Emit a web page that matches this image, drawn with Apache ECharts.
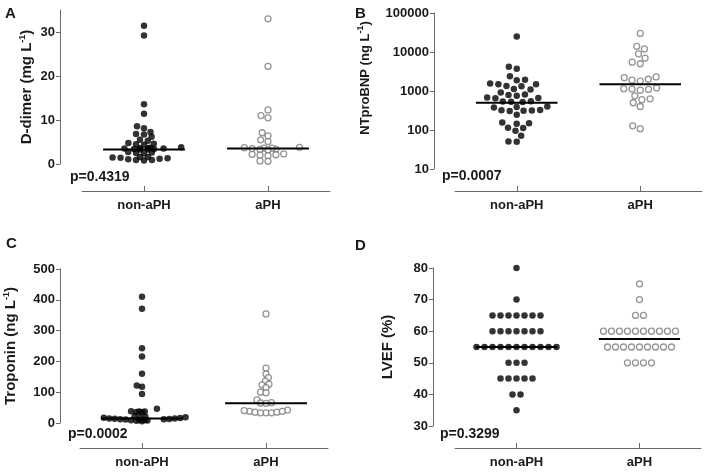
<!DOCTYPE html>
<html>
<head>
<meta charset="utf-8">
<script src="https://cdn.jsdelivr.net/npm/echarts@6/dist/echarts.min.js"></script>
<style>
html,body{margin:0;padding:0;background:#ffffff;}
#c{width:709px;height:476px;}
</style>
</head>
<body>
<div id="c"></div>
<script>
// ---------------- data ----------------
const categories = ['non-aPH', 'aPH'];
const panelLetters = ['A', 'B', 'C', 'D'];
const pValues = ['p=0.4319', 'p=0.0007', 'p=0.0002', 'p=0.3299'];

const ddimerNonAPH = [31.4, 29.2, 13.6, 11.4, 8.6, 8.1, 7.3, 6.8, 6.7, 6.2, 5.5, 5.3, 4.8, 4.6, 4.4, 4.5,
  3.8, 3.6, 3.5, 3.4, 3.5, 3.3, 3.4, 3.3, 3.6, 3.7, 2.7, 2.5, 2.6, 2.4,
  1.6, 1.4, 1.2, 0.9, 0.8, 0.9, 1.1, 1.3, 1.5, 1.6];
const ddimerAPH = [33.0, 22.2, 12.3, 10.5, 11.0, 7.1, 6.4, 5.5, 5.1, 3.8, 3.6, 3.4, 3.5, 3.3, 3.6, 3.7, 3.2,
  2.3, 2.1, 2.0, 1.9, 2.2, 0.7, 0.6];
const ddimerMedian = [3.3, 3.5];
const ddimerTicks = [0, 10, 20, 30];

const ntprobnpNonAPH = [25000, 4200, 3700, 2400, 1900, 1950, 1500, 1550, 1480, 1350, 1320, 1120, 1100, 920,
  790, 760, 810, 660, 650, 680, 540, 550, 520, 530, 390, 400, 380, 320, 310, 316, 305, 325,
  245, 155, 150, 145, 112, 115, 96, 71, 51, 50];
const ntprobnpAPH = [30000, 14000, 12000, 9000, 7000, 5500, 5000, 2200, 2000, 2300, 1900, 1800,
  1100, 1050, 1150, 1200, 1120, 750, 600, 630, 500, 400, 108, 128];
const ntprobnpMedian = [500, 1500];
const ntprobnpTicks = [10, 100, 1000, 10000, 100000];
const ntprobnpMinorTicks = [20, 30, 40, 50, 60, 70, 80, 90, 200, 300, 400, 500, 600, 700, 800, 900,
  2000, 3000, 4000, 5000, 6000, 7000, 8000, 9000, 20000, 30000, 40000, 50000, 60000, 70000, 80000, 90000];

const troponinNonAPH = [410, 371, 243, 216, 160, 122, 118, 94, 46, 38, 37, 36, 37, 35,
  22, 20, 19, 18, 17, 16, 15, 15, 14, 13, 12, 12, 11, 10, 10, 9, 8, 7, 6];
const troponinAPH = [354, 178, 159, 147, 136, 126, 124, 115, 100, 98, 75, 66, 64, 65,
  42, 38, 35, 33, 33, 33, 35, 38, 40];
const troponinMedian = [15, 64];
const troponinTicks = [0, 100, 200, 300, 400, 500];

const lvefNonAPH = [80, 70, 65, 65, 65, 65, 65, 65, 65, 60, 60, 60, 60, 60, 60, 60,
  55, 55, 55, 55, 55, 55, 55, 55, 55, 55, 55, 50, 50, 50, 45, 45, 45, 45, 45, 40, 40, 35];
const lvefAPH = [75, 70, 65, 65, 60, 60, 60, 60, 60, 60, 60, 60, 60, 60,
  55, 55, 55, 55, 55, 55, 55, 55, 55, 50, 50, 50, 50];
const lvefMedian = [55, 57.5];
const lvefTicks = [30, 40, 50, 60, 70, 80];

// ---------------- layout / style ----------------
const F = '"Liberation Sans", Arial, Helvetica, sans-serif';
const TXT = '#1a1a1a';
const AX = '#6a6a6a';

const panels = [
  { grid: { left: 82, top: 10, width: 248, height: 154 }, yOff: 22, xOff: 27, yType: 'value', min: 0, max: 35, interval: 10,
    ticks: ddimerTicks, name: ['D-dimer (mg L', '-1', ')'], nameGap: 24, namePad: 0, nameSize: 15, rx: 8, ry: 4.5,
    data: [ddimerNonAPH, ddimerAPH], med: ddimerMedian, p: { x: 70, y: 177 }, letter: { x: 5, y: 6 } },
  { grid: { left: 455, top: 13, width: 247, height: 156 }, yOff: 21, xOff: 22, yType: 'log', min: 10, max: 100000,
    ticks: ntprobnpTicks, name: ['NTproBNP (ng L', '-1', ')'], nameGap: 60, namePad: 26, nameSize: 13, rx: 8.3, ry: 7,
    data: [ntprobnpNonAPH, ntprobnpAPH], med: ntprobnpMedian, p: { x: 442, y: 176 }, letter: { x: 355, y: 6 } },
  { grid: { left: 80, top: 269, width: 248, height: 154 }, yOff: 20, xOff: 25, yType: 'value', min: 0, max: 500, interval: 100,
    ticks: troponinTicks, name: ['Troponin (ng L', '-1', ')'], nameGap: 40, namePad: 0, nameSize: 15, rx: 5.5, ry: 4,
    data: [troponinNonAPH, troponinAPH], med: troponinMedian, p: { x: 68, y: 434 }, letter: { x: 6, y: 236 } },
  { grid: { left: 455, top: 268, width: 246, height: 158 }, yOff: 22, xOff: 22, yType: 'value', min: 30, max: 80, interval: 10,
    ticks: lvefTicks, name: ['LVEF (%)', '', ''], nameGap: 36, namePad: 0, nameSize: 15, rx: 8, ry: 4.5,
    data: [lvefNonAPH, lvefAPH], med: lvefMedian, p: { x: 440, y: 434 }, letter: { x: 355, y: 238 } }
];

const grids = [], xAxes = [], yAxes = [], graphics = [];
panels.forEach((p, i) => {
  grids.push(Object.assign({ containLabel: false }, p.grid));
  xAxes.push({
    type: 'category', gridIndex: i, data: categories, offset: p.xOff, boundaryGap: true,
    axisLine: { show: true, onZero: false, lineStyle: { color: AX, width: 1 } },
    axisTick: { show: true, inside: true, length: 5, alignWithLabel: true, lineStyle: { color: AX } },
    axisLabel: { color: TXT, fontWeight: 'bold', fontSize: 13, fontFamily: F, margin: 8 },
    splitLine: { show: false }
  });
  const nm = p.name[1] ? '{n|' + p.name[0] + '}{s|' + p.name[1] + '}{n|' + p.name[2] + '}' : '{n|' + p.name[0] + '}';
  const y = {
    type: p.yType, gridIndex: i, min: p.min, max: p.max, offset: p.yOff,
    axisLine: { show: true, onZero: false, lineStyle: { color: AX, width: 1 } },
    axisTick: { show: true, length: 4, lineStyle: { color: AX }, customValues: p.ticks },
    axisLabel: { color: TXT, fontWeight: 'bold', fontSize: 13, fontFamily: F, margin: 5, customValues: p.ticks,
      formatter: v => String(Math.round(v)) },
    splitLine: { show: false },
    name: nm, nameLocation: 'middle', nameGap: p.nameGap,
    nameTextStyle: {
      padding: [0, 0, 0, p.namePad],
      rich: {
        n: { fontSize: p.nameSize, fontWeight: 'bold', fontFamily: F, color: TXT, lineHeight: 18 },
        s: { fontSize: 9, fontWeight: 'bold', fontFamily: F, color: TXT, lineHeight: 18, verticalAlign: 'top', padding: [0, 0, 8, 0] }
      }
    }
  };
  if (p.yType === 'log') y.logBase = 10; else y.interval = p.interval;
  yAxes.push(y);
  graphics.push({ type: 'text', x: p.letter.x, y: p.letter.y,
    style: { text: panelLetters[i], font: 'bold 15px ' + F, fill: TXT } });
  graphics.push({ type: 'text', x: p.p.x, y: p.p.y,
    style: { text: pValues[i], font: 'bold 14px ' + F, fill: TXT, verticalAlign: 'middle' } });
});
panels.forEach((p, i) => {
  xAxes.push({ type: 'value', gridIndex: i, min: -0.5, max: 1.5, show: false,
    axisLine: { onZero: false } });
});
// minor ticks of the log axis (panel B)
yAxes.push({
  type: 'log', logBase: 10, gridIndex: 1, min: 10, max: 100000, offset: panels[1].yOff,
  axisLine: { show: false, onZero: false }, axisLabel: { show: false }, splitLine: { show: false },
  axisTick: { show: true, length: 2.5, lineStyle: { color: AX }, customValues: ntprobnpMinorTicks }
});

const chart = echarts.init(document.getElementById('c'), null, { renderer: 'canvas' });
chart.setOption({
  animation: false,
  backgroundColor: '#ffffff',
  grid: grids, xAxis: xAxes, yAxis: yAxes, graphic: graphics, series: []
});

// beeswarm placement in pixel space (elliptic spacing), positions from the axes' own scales
function swarm(values, toPy, RX, RY) {
  const pts = values.map(v => ({ v: v, py: toPy(v), px: 0 }));
  const order = pts.slice().sort((a, b) => a.v - b.v);
  const placed = [];
  const ok = (c, py) => placed.every(q => {
    const a = (q.px - c) / RX, b = (q.py - py) / RY;
    return a * a + b * b >= 1 - 1e-6;
  });
  order.forEach(pt => {
    const cands = [0];
    placed.forEach(q => {
      const dy = (pt.py - q.py) / RY;
      if (Math.abs(dy) < 1) {
        const dx = RX * Math.sqrt(1 - dy * dy);
        cands.push(q.px + dx, q.px - dx);
      }
    });
    cands.sort((a, b) => (Math.abs(a) - Math.abs(b)) || (a - b));
    for (const c of cands) {
      if (ok(c, pt.py)) { pt.px = c; break; }
    }
    placed.push(pt);
  });
  // centre rows of identical values
  const groups = {};
  pts.forEach(pt => { (groups[pt.v] = groups[pt.v] || []).push(pt); });
  Object.keys(groups).forEach(k => {
    const g = groups[k];
    if (g.length > 1) {
      const m = g.reduce((s, q) => s + q.px, 0) / g.length;
      g.forEach(q => { q.px -= m; });
    }
  });
  return pts;
}

const series = [];
const HALF = 0.33;
panels.forEach((p, i) => {
  const finder = { xAxisIndex: 4 + i, yAxisIndex: i };
  const base = p.yType === 'log' ? 100 : p.min;
  const pxPerUnit = chart.convertToPixel(finder, [1, base])[0] - chart.convertToPixel(finder, [0, base])[0];
  p.data.forEach((vals, g) => {
    const pts = swarm(vals, v => chart.convertToPixel(finder, [g, v])[1], p.rx, p.ry);
    const filled = g === 0;
    series.push({
      type: 'scatter', xAxisIndex: 4 + i, yAxisIndex: i, z: 2,
      symbol: 'circle', symbolSize: filled ? 6.5 : 6,
      itemStyle: filled ? { color: '#000000' } : { color: '#ffffff', borderColor: '#7a7a7a', borderWidth: 1.3 },
      data: pts.map(pt => [g + pt.px / pxPerUnit, pt.v]),
      silent: true
    });
    series.push({
      type: 'line', xAxisIndex: 4 + i, yAxisIndex: i, z: 3, symbol: 'none',
      lineStyle: { color: '#000000', width: 2 },
      data: [[g - HALF, p.med[g]], [g + HALF, p.med[g]]],
      silent: true
    });
  });
});
chart.setOption({ series: series });
</script>
</body>
</html>
